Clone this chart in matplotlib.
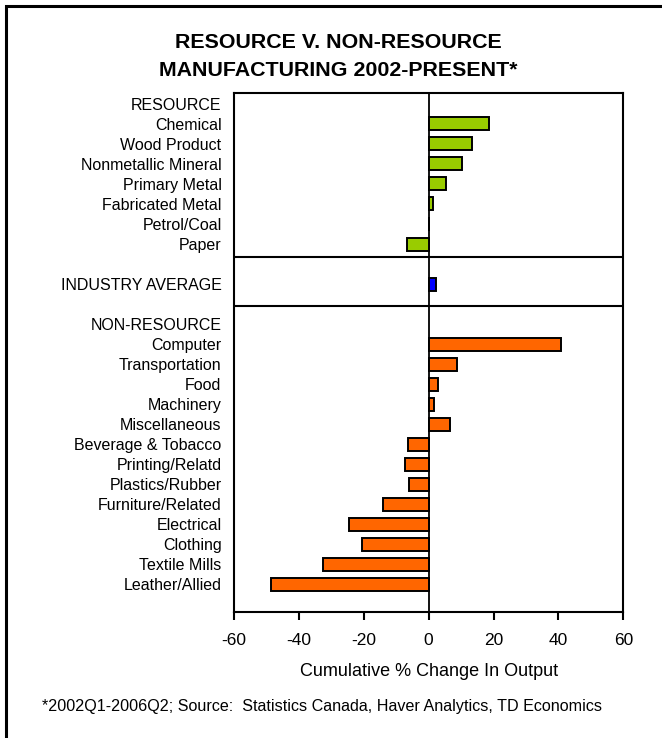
import matplotlib
matplotlib.use("Agg")
import matplotlib.pyplot as plt
from matplotlib.patches import Rectangle

plt.rcParams['font.family'] = ['Liberation Sans', 'DejaVu Sans']

# Cumulative % change in output, 2002Q1-2006Q2
resource_labels = ["Chemical", "Wood Product", "Nonmetallic Mineral", "Primary Metal",
                   "Fabricated Metal", "Petrol/Coal", "Paper"]
resource_values = [18.5, 13.3, 10.4, 5.2, 1.2, 0.0, -6.8]

average_label = "INDUSTRY AVERAGE"
average_value = 2.3

nonresource_labels = ["Computer", "Transportation", "Food", "Machinery", "Miscellaneous",
                      "Beverage & Tobacco", "Printing/Relatd", "Plastics/Rubber",
                      "Furniture/Related", "Electrical", "Clothing", "Textile Mills",
                      "Leather/Allied"]
nonresource_values = [40.9, 8.6, 3.0, 1.6, 6.6, -6.3, -7.4, -6.2, -14.2, -24.4, -20.6,
                      -32.6, -48.5]

x_ticks = [-60, -40, -20, 0, 20, 40, 60]

GREEN = "#99CC00"
ORANGE = "#FF6600"
BLUE = "#0000FF"

W, H = 662, 738
fig = plt.figure(figsize=(W / 100, H / 100), dpi=100)
ax = fig.add_axes([234 / W, 1 - 612.3 / H, (623.3 - 234) / W, (612.3 - 93.3) / H])

# row layout: group headers, bars, and gaps
res_pos = list(range(1, 1 + len(resource_labels)))
avg_pos = 9
non_pos = list(range(12, 12 + len(nonresource_labels)))

bar_h = 0.65
edge = dict(edgecolor="black", linewidth=1.4)
ax.barh(res_pos, resource_values, height=bar_h, color=GREEN, **edge)
ax.barh([avg_pos], [average_value], height=bar_h, color=BLUE, **edge)
ax.barh(non_pos, nonresource_values, height=bar_h, color=ORANGE, **edge)

ax.axvline(0, color="black", linewidth=1.3, zorder=0.5)
ax.axhline(7.66, color="black", linewidth=1.5)
ax.axhline(10.1, color="black", linewidth=1.5)

ax.set_xlim(-60, 60)
ax.set_ylim(25.4, -0.53)

ytick_pos = [0] + res_pos + [avg_pos, 11] + non_pos
ytick_lab = ["RESOURCE"] + resource_labels + [average_label, "NON-RESOURCE"] + nonresource_labels
ax.set_yticks(ytick_pos)
ax.set_yticklabels(ytick_lab, fontsize=11.5)
ax.tick_params(axis="y", length=0, pad=9)

ax.set_xticks(x_ticks)
ax.set_xticklabels([str(v) for v in x_ticks], fontsize=12.5)
ax.tick_params(axis="x", direction="out", length=6, width=1.5, pad=9)
ax.set_xlabel("Cumulative % Change In Output", fontsize=13, labelpad=10.5)

for s in ax.spines.values():
    s.set_linewidth(1.5)

fig.text(338 / W, 1 - 42 / H, "RESOURCE V. NON-RESOURCE", ha="center", va="center",
         fontsize=15.4, fontweight="bold")
fig.text(338 / W, 1 - 70 / H, "MANUFACTURING 2002-PRESENT*", ha="center", va="center",
         fontsize=15.4, fontweight="bold")

fig.text(42 / W, 1 - 706 / H,
         "*2002Q1-2006Q2; Source:  Statistics Canada, Haver Analytics, TD Economics",
         ha="left", va="center", fontsize=11.6)

# outer frame
fig.patches.append(Rectangle((6 / W, -0.1), 1.2, 1 - 6 / H + 0.1, transform=fig.transFigure,
                             fill=False, edgecolor="black", linewidth=2.2))

fig.savefig("out.png", dpi=100)
